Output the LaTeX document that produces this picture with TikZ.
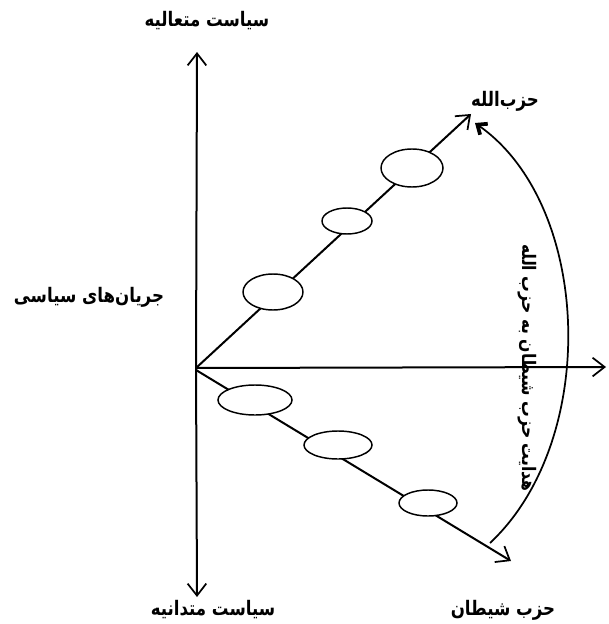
\documentclass[tikz,border=0pt]{standalone}
\usepackage{fontspec}
\newfontfamily\fa[Script=Arabic,BoldFont={DejaVu Sans Bold}]{DejaVu Sans}
\TeXXeTstate=1
\usetikzlibrary{arrows.meta,shapes.geometric}
\newcommand\fatxt[2][0.83]{\scalebox{#1}[1]{\beginR #2\endR}}
\tikzset{
  axis/.style={line width=1.5pt,-{Straight Barb[length=9pt,width=14pt,line width=1.3pt]}},
  blob/.style={draw,ellipse,line width=1.1pt,inner sep=0pt,fill=white},
  lbl/.style={font=\fa\bfseries\fontsize{15}{16}\selectfont,inner sep=0pt},
  vlbl/.style={font=\fa\bfseries\fontsize{14}{15}\selectfont,inner sep=0pt,rotate=-90}
}
\begin{document}
\begin{tikzpicture}[x=0.75pt,y=-0.75pt]
\useasboundingbox[fill=white] (0,0) rectangle (608,624);
% axis points
\coordinate (o) at (196,368);
\coordinate (o2) at (196,370);
\coordinate (top) at (197,52);
\coordinate (bot) at (197,597);
\coordinate (right) at (606,367);
\coordinate (up) at (471,114);
\coordinate (down) at (511,561);
\coordinate (arcS) at (490,543);
\coordinate (arcE) at (475,123);
% axes
\draw[axis] (o) -- (top);
\draw[axis] (o) -- (bot);
\draw[axis] (o) -- (right);
\draw[axis] (o) -- (up);
\draw[axis] (o2) -- (down);
% ellipses
\node[blob,minimum width=62pt*0.75,minimum height=38pt*0.75] (e1) at (412,168) {};
\node[blob,minimum width=50pt*0.75,minimum height=26pt*0.75] (e2) at (347,221) {};
\node[blob,minimum width=60pt*0.75,minimum height=36pt*0.75] (e3) at (273,292) {};
\node[blob,minimum width=74pt*0.75,minimum height=30pt*0.75] (e4) at (255,400) {};
\node[blob,minimum width=68pt*0.75,minimum height=28pt*0.75] (e5) at (338,445) {};
\node[blob,minimum width=58pt*0.75,minimum height=26pt*0.75] (e6) at (428,503) {};
% curved arrow
\draw[line width=1.3pt,-{Straight Barb[length=6pt,width=10pt,line width=2.8pt]}]
  (arcS) .. controls (600,440) and (592,205) .. (arcE);
% labels
\node[lbl] (t1) at (207,21) {\fatxt{سیاست متعالیه}};
\node[lbl] (t2) at (505,101) {\fatxt{حزب‌الله}};
\node[lbl] (t3) at (89,297) {\fatxt{جریان‌های سیاسی}};
\node[lbl] (t4) at (213,610) {\fatxt{سیاست متدانیه}};
\node[lbl] (t5) at (503,610) {\fatxt{حزب شیطان}};
\node[vlbl] (t6) at (527,368) {\fatxt[0.84]{هدایت حزب شیطان به حزب الله}};
\end{tikzpicture}
\end{document}
